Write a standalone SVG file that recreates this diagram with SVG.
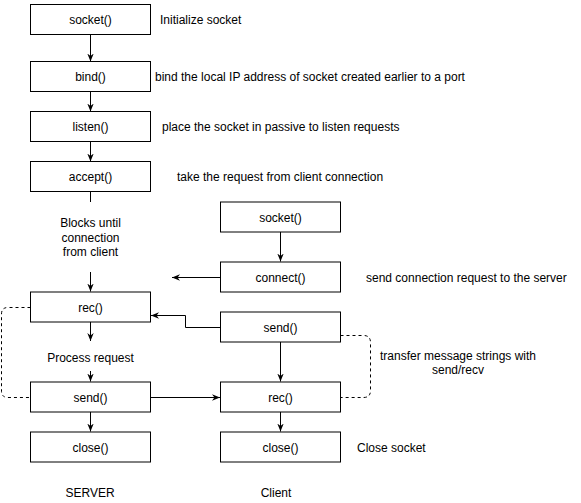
<svg xmlns="http://www.w3.org/2000/svg" width="581" height="503" viewBox="0 0 581 503">
<style>
.box{fill:#fff;stroke:#000;stroke-width:1}
text{font-family:"Liberation Sans",Arial,Helvetica,sans-serif;font-size:12px;fill:#000}
.c{text-anchor:middle}
.ln{fill:none;stroke:#000;stroke-width:1}
.dash{fill:none;stroke:#000;stroke-width:1;stroke-dasharray:3 3}
</style>
<defs>
<marker id="arr" viewBox="0 0 10 10" refX="10" refY="5" markerWidth="8" markerHeight="8" markerUnits="userSpaceOnUse" orient="auto">
<path d="M0,1 L10,5 L0,9 L3,5 z" fill="#000"/>
</marker>
</defs>
<rect width="581" height="503" fill="#fff"/>
<g id="connectors">
<path class="ln" d="M90.5,35 V61.5" marker-end="url(#arr)"/>
<path class="ln" d="M90.5,92 V111.5" marker-end="url(#arr)"/>
<path class="ln" d="M90.5,142 V161.5" marker-end="url(#arr)"/>
<path class="ln" d="M90.5,192 V202"/>
<path class="ln" d="M90.5,272 V291.5" marker-end="url(#arr)"/>
<path class="ln" d="M90.5,322 V341" marker-end="url(#arr)"/>
<path class="ln" d="M90.5,371 V381.5" marker-end="url(#arr)"/>
<path class="ln" d="M90.5,412 V431.5" marker-end="url(#arr)"/>
<path class="ln" d="M280.5,232 V261.5" marker-end="url(#arr)"/>
<path class="ln" d="M220.5,277.5 H172" marker-end="url(#arr)"/>
<path class="ln" d="M220.5,327.5 H185.5 V315.5 H151" marker-end="url(#arr)"/>
<path class="ln" d="M151,397.5 H220" marker-end="url(#arr)"/>
<path class="ln" d="M280.5,342 V381.5" marker-end="url(#arr)"/>
<path class="ln" d="M280.5,412 V431.5" marker-end="url(#arr)"/>
<path class="dash" d="M30.5,307.5 H8 Q1.5,307.5 1.5,314 V391 Q1.5,397.5 8,397.5 H30.5"/>
<path class="dash" d="M340.5,335.5 H363.5 Q370.5,335.5 370.5,342.5 V390.5 Q370.5,397.5 363.5,397.5 H340.5"/>
</g>
<g id="s_socket"><rect class="box" x="30.5" y="4.5" width="120" height="30"/><text class="c" x="90.5" y="24">socket()</text></g>
<g id="s_bind"><rect class="box" x="30.5" y="61.5" width="120" height="30"/><text class="c" x="90.5" y="81">bind()</text></g>
<g id="s_listen"><rect class="box" x="30.5" y="111.5" width="120" height="30"/><text class="c" x="90.5" y="131">listen()</text></g>
<g id="s_accept"><rect class="box" x="30.5" y="161.5" width="120" height="30"/><text class="c" x="90.5" y="181">accept()</text></g>
<g id="s_blocks"><text class="c" x="90.5" y="227">Blocks until</text><text class="c" x="90.5" y="241.5">connection</text><text class="c" x="90.5" y="256">from client</text></g>
<g id="s_rec"><rect class="box" x="30.5" y="292" width="120" height="30"/><text class="c" x="90.5" y="311.5">rec()</text></g>
<g id="s_process"><text class="c" x="90.5" y="361.5">Process request</text></g>
<g id="s_send"><rect class="box" x="30.5" y="382" width="120" height="30"/><text class="c" x="90.5" y="401.5">send()</text></g>
<g id="s_close"><rect class="box" x="30.5" y="432" width="120" height="30"/><text class="c" x="90.5" y="451.5">close()</text></g>
<g id="c_socket"><rect class="box" x="220.5" y="202" width="120" height="30"/><text class="c" x="280.5" y="221.5">socket()</text></g>
<g id="c_connect"><rect class="box" x="220.5" y="262" width="120" height="30"/><text class="c" x="280.5" y="281.5">connect()</text></g>
<g id="c_send"><rect class="box" x="220.5" y="312" width="120" height="30"/><text class="c" x="280.5" y="331.5">send()</text></g>
<g id="c_rec"><rect class="box" x="220.5" y="382" width="120" height="30"/><text class="c" x="280.5" y="401.5">rec()</text></g>
<g id="c_close"><rect class="box" x="220.5" y="432" width="120" height="30"/><text class="c" x="280.5" y="451.5">close()</text></g>
<g id="labels">
<text x="160" y="24">Initialize socket</text>
<text x="155" y="81">bind the local IP address of socket created earlier to a port</text>
<text x="162" y="131">place the socket in passive to listen requests</text>
<text x="177" y="181">take the request from client connection</text>
<text x="366" y="281.5">send connection request to the server</text>
<text class="c" x="458" y="360">transfer message strings with</text>
<text class="c" x="458" y="374">send/recv</text>
<text x="357" y="451.5">Close socket</text>
<text class="c" x="90" y="497">SERVER</text>
<text class="c" x="276" y="497">Client</text>
</g>
</svg>
